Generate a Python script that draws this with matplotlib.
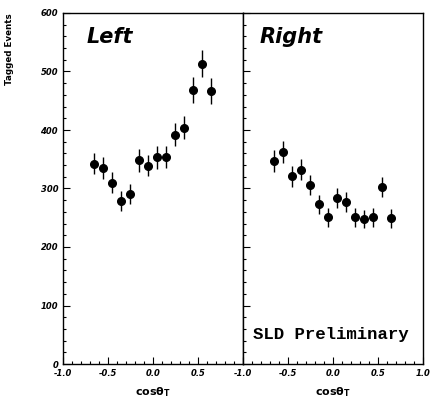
import matplotlib.pyplot as plt
import numpy as np
from matplotlib.ticker import MultipleLocator

# bin centres in cos(theta_T)
x = [-0.65, -0.55, -0.45, -0.35, -0.25, -0.15, -0.05,
     0.05, 0.15, 0.25, 0.35, 0.45, 0.55, 0.65]

left_y = [342, 335, 310, 279, 290, 348, 339, 353, 354, 392, 404, 468, 513, 467]
left_err = [18, 18, 18, 17, 17, 19, 18, 19, 19, 20, 20, 22, 23, 22]

right_y = [347, 362, 321, 332, 306, 273, 251, 284, 277, 251, 248, 251, 303, 249]
right_err = [19, 19, 18, 18, 17, 16, 16, 17, 17, 16, 16, 16, 17, 16]

fig = plt.figure(figsize=(4.31, 3.98), dpi=100)
W, H = 431.0, 398.0
axL = fig.add_axes([63 / W, (H - 364) / H, 180 / W, 351 / H])
axR = fig.add_axes([243 / W, (H - 364) / H, 180 / W, 351 / H])

tickfont = dict(family='DejaVu Sans', weight='bold', style='italic', size=6)

for ax, y, e, name, tx in [(axL, left_y, left_err, 'Left', 0.13),
                           (axR, right_y, right_err, 'Right', 0.09)]:
    ax.errorbar(x, y, yerr=e, fmt='o', color='black', ms=5.5, elinewidth=1.0, capsize=0)
    ax.set_xlim(-1.0, 1.0)
    ax.set_ylim(0, 600)
    ax.xaxis.set_major_locator(MultipleLocator(0.5))
    ax.xaxis.set_minor_locator(MultipleLocator(0.1))
    ax.yaxis.set_major_locator(MultipleLocator(100))
    ax.yaxis.set_minor_locator(MultipleLocator(20))
    ax.tick_params(which='both', direction='in', top=False, right=False, width=0.8)
    ax.tick_params(which='major', length=5)
    ax.tick_params(which='minor', length=2.5)
    for sp in ax.spines.values():
        sp.set_linewidth(1.0)
    ax.set_xticks([-1.0, -0.5, 0.0, 0.5, 1.0])
    ax.set_xticklabels(['-1.0', '-0.5', '0.0', '0.5', '1.0'], fontdict=tickfont)
    ax.text(tx, 0.96, name, transform=ax.transAxes, fontsize=15, weight='bold',
            style='italic', ha='left', va='top')
    ax.set_xlabel(r'cos$\mathbf{\theta_T}$', fontsize=8, weight='bold', labelpad=5)

# left panel hides its 1.0 label (shared with the right panel's -1.0)
axL.set_xticklabels(['-1.0', '-0.5', '0.0', '0.5', ''], fontdict=tickfont)
axL.set_yticks([0, 100, 200, 300, 400, 500, 600])
axL.set_yticklabels(['0', '100', '200', '300', '400', '500', '600'], fontdict=tickfont)
axR.tick_params(axis='y', labelleft=False)

fig.text(10 / W, (H - 13) / H, 'Tagged Events', rotation=90, fontsize=6.3,
         weight='bold', ha='center', va='top')

axR.text(0.055, 0.083, 'SLD Preliminary', transform=axR.transAxes,
         family='Liberation Mono', weight='bold', fontsize=12.5, ha='left', va='center')

fig.savefig('out.png', dpi=100)
